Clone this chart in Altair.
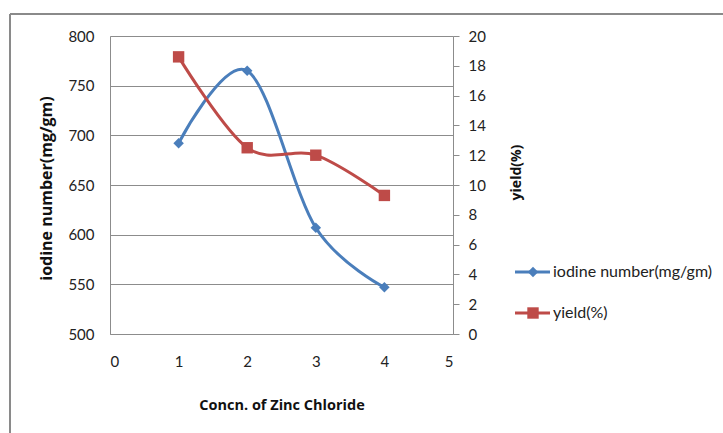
import altair as alt
import pandas as pd

# Zinc chloride concentration series
concn = [1, 2, 3, 4]
iodine_number = [692, 765, 607, 547]   # mg/gm
yield_pct = [18.6, 12.5, 12.0, 9.3]    # %

legend_labels = ["iodine number(mg/gm)", "yield(%)"]

BLUE = "#4A7EBB"
RED = "#BE4B48"
GRID = "#8C8C8C"
FONT = "Lato"
TITLE_FONT = "Open Sans"

df = pd.DataFrame({"concn": concn, "iodine": iodine_number, "yield": yield_pct})

W, H = 343, 298

x_enc = alt.X(
    "concn:Q",
    scale=alt.Scale(domain=[0, 5], nice=False),
    axis=alt.Axis(
        values=[0, 1, 2, 3, 4, 5], format="d", ticks=False, grid=False,
        labelPadding=20, domainColor=GRID, labelFontSize=15, labelFont=FONT,
        labelColor="#222", labelOverlap=False,
        title="Concn. of Zinc Chloride", titleFont=TITLE_FONT,
        titleFontSize=14.5, titleFontWeight="bold", titleY=71, titleBaseline="middle",
        titleColor="#111",
    ),
)

left_axis = alt.Axis(
    values=[500, 550, 600, 650, 700, 750, 800], ticks=False, grid=True,
    gridColor=GRID, gridWidth=1, domainColor=GRID, labelPadding=16,
    labelFontSize=15, labelFont=FONT, labelColor="#222", labelOverlap=False,
    title="iodine number(mg/gm)", titleFont=TITLE_FONT, titleFontSize=16,
    titleFontWeight="bold", titleX=-64, titleY=152, titleAngle=270,
    titleAlign="center", titleBaseline="middle", titleColor="#111",
)

right_axis = alt.Axis(
    orient="right", values=[0, 2, 4, 6, 8, 10, 12, 14, 16, 18, 20], ticks=True, tickSize=6,
    tickColor=GRID, grid=False, domainColor=GRID, labelPadding=9,
    labelFontSize=15, labelFont=FONT, labelColor="#222", labelOverlap=False,
    title="yield(%)", titleFont=TITLE_FONT, titleFontSize=14,
    titleFontWeight="bold", titleX=63, titleY=136, titleAngle=270,
    titleAlign="center", titleBaseline="middle", titleColor="#111",
)

iodine_y = alt.Y("iodine:Q", scale=alt.Scale(domain=[500, 800], nice=False), axis=left_axis)
yield_y = alt.Y("yield:Q", scale=alt.Scale(domain=[0, 20], nice=False), axis=right_axis)

# Each series shares its y encoding (and axis) between line and markers
iodine_base = alt.Chart(df).encode(x=x_enc, y=iodine_y)
yield_base = alt.Chart(df).encode(x=x_enc, y=yield_y)

iodine_layer = alt.layer(
    iodine_base.mark_line(color=BLUE, strokeWidth=3, interpolate="cardinal", tension=0),
    iodine_base.mark_point(shape="diamond", filled=True, color=BLUE, size=110, opacity=1),
)

yield_layer = alt.layer(
    yield_base.mark_line(color=RED, strokeWidth=3, interpolate="cardinal", tension=0),
    yield_base.mark_square(color=RED, size=130, opacity=1),
)


def legend_entry(label, color, shape, size, ypos):
    """Line stub, marker and label for one series, placed right of the plot."""
    d = alt.Chart(pd.DataFrame({"label": [label]}))
    stub = d.mark_rule(color=color, strokeWidth=3).encode(
        x=alt.value(405), x2=alt.value(440), y=alt.value(ypos))
    mark = d.mark_point(shape=shape, filled=True, color=color, size=size, opacity=1).encode(
        x=alt.value(423), y=alt.value(ypos))
    text = d.mark_text(align="left", baseline="middle", font=FONT, fontSize=16,
                       color="#222").encode(
        x=alt.value(443), y=alt.value(ypos), text="label:N")
    return alt.layer(stub, mark, text)


legend = alt.layer(
    legend_entry(legend_labels[0], BLUE, "diamond", 110, 236),
    legend_entry(legend_labels[1], RED, "square", 130, 277),
)

# Outer chart frame (left and top edges)
frame_src = alt.Chart(pd.DataFrame({"k": [0]}))
frame = alt.layer(
    frame_src.mark_rule(color="#8A8A8A", strokeWidth=2).encode(
        x=alt.value(-100), y=alt.value(-22), y2=alt.value(420)),
    frame_src.mark_rule(color="#8A8A8A", strokeWidth=2).encode(
        x=alt.value(-100), x2=alt.value(640), y=alt.value(-22)),
)

chart = (
    alt.layer(iodine_layer, yield_layer)
    .resolve_scale(y="independent")
    .properties(width=W, height=H)
)

chart = alt.layer(chart, legend, frame).properties(
    width=W, height=H,
    autosize=alt.AutoSizeParams(type="none"),
    padding={"left": 110, "top": 36, "right": 270, "bottom": 99},
).configure_view(stroke=GRID, strokeWidth=1).configure(background="white")

chart.save("out.html", embed_options={"renderer": "svg", "actions": False})
